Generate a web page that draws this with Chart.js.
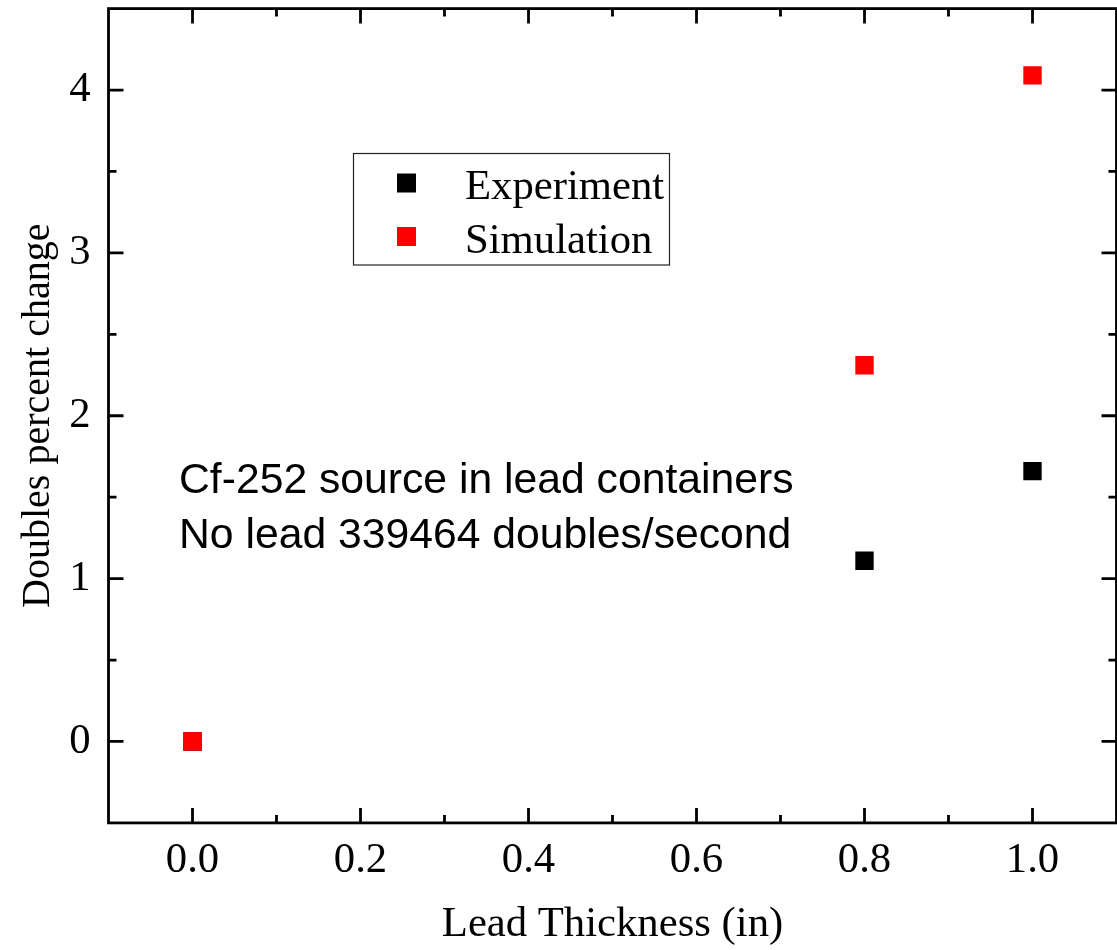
<!DOCTYPE html>
<html>
<head>
<meta charset="utf-8">
<script src="https://cdn.jsdelivr.net/npm/chart.js@4/dist/chart.umd.min.js"></script>
<style>
  html, body { margin: 0; padding: 0; background: #fff; }
  #wrap { width: 1117px; height: 950px; }
</style>
</head>
<body>
<div id="wrap"><canvas id="chart" width="1117" height="950"></canvas></div>
<script>
// values
const thickness = [0.0, 0.8, 1.0]
const experiment = [0.0, 1.11, 1.66]
const simulation = [0.0, 2.31, 4.09]
const xTicks = [0.0, 0.2, 0.4, 0.6, 0.8, 1.0]
const xMinorTicks = [0.1, 0.3, 0.5, 0.7, 0.9]
const yTicks = [0, 1, 2, 3, 4]
const yMinorTicks = [0.5, 1.5, 2.5, 3.5]
const seriesNames = ['Experiment', 'Simulation']
const noteLines = ['Cf-252 source in lead containers', 'No lead 339464 doubles/second']

const serif = '"Liberation Serif", "Times New Roman", serif'
const sans = '"Liberation Sans", Arial, sans-serif'
const fontPx = 42.7

const toPoints = ys => thickness.map((x, i) => ({ x: x, y: ys[i] }))

// no extra room for the end labels, the box is fixed
const noPad = s => {
  s.paddingLeft = 0
  s.paddingRight = 0
  s.paddingTop = 0
  s.paddingBottom = 0
}

// Origin-style box with inward ticks, legend and note
const framePlugin = {
  id: 'frame',
  afterDraw(chart) {
    const { ctx, chartArea: a, scales } = chart
    const xs = scales.x, ys = scales.y
    ctx.save()
    ctx.strokeStyle = '#000'
    ctx.lineWidth = 2.8
    ctx.lineCap = 'butt'
    ctx.beginPath()
    const xTick = (v, len) => {
      const px = xs.getPixelForValue(v)
      ctx.moveTo(px, a.bottom); ctx.lineTo(px, a.bottom - len)
      ctx.moveTo(px, a.top); ctx.lineTo(px, a.top + len)
    }
    const yTick = (v, len) => {
      const py = ys.getPixelForValue(v)
      ctx.moveTo(a.left, py); ctx.lineTo(a.left + len, py)
      ctx.moveTo(a.right, py); ctx.lineTo(a.right - len, py)
    }
    xTicks.forEach(v => xTick(v, 15))
    xMinorTicks.forEach(v => xTick(v, 8))
    yTicks.forEach(v => yTick(v, 15))
    yMinorTicks.forEach(v => yTick(v, 8))
    ctx.stroke()
    ctx.strokeRect(a.left, a.top, a.right - a.left, a.bottom - a.top)

    // legend
    ctx.lineWidth = 1.2
    ctx.strokeStyle = '#222'
    ctx.strokeRect(353.5, 153.5, 316, 111.5)
    ctx.font = fontPx + 'px ' + serif
    ctx.textBaseline = 'alphabetic'
    ctx.textAlign = 'left'
    chart.data.datasets.forEach((ds, i) => {
      const cy = 183 + i * 53.5
      ctx.fillStyle = ds.backgroundColor
      ctx.fillRect(397, cy - 9.5, 19, 19)
      ctx.fillStyle = '#000'
      ctx.fillText(ds.label, 465, cy + 16)
    })

    // note
    ctx.font = fontPx + 'px ' + sans
    ctx.fillStyle = '#000'
    noteLines.forEach((t, i) => ctx.fillText(t, 179, 493 + i * 55))
    ctx.restore()
  }
}

const ctx = document.getElementById('chart').getContext('2d')
const config = {
  type: 'scatter',
  data: {
    datasets: [{
      label: seriesNames[0],
      data: toPoints(experiment),
      backgroundColor: '#000000',
      pointStyle: 'rect',
      pointRadius: 13,
      pointBorderWidth: 0,
      order: 1
    }, {
      label: seriesNames[1],
      data: toPoints(simulation),
      backgroundColor: '#ff0000',
      pointStyle: 'rect',
      pointRadius: 13,
      pointBorderWidth: 0,
      order: 0
    }]
  },
  options: {
    responsive: false,
    animation: false,
    events: [],
    layout: { autoPadding: false, padding: { top: 8.6, right: 0.5, left: 0, bottom: 0 } },
    plugins: {
      legend: { display: false },
      tooltip: { enabled: false }
    },
    scales: {
      x: {
        type: 'linear',
        min: -0.1,
        max: 1.1,
        grid: { display: false, drawTicks: false },
        border: { display: false },
        afterBuildTicks: s => { s.ticks = xTicks.map(v => ({ value: v })) },
        afterFit: s => { s.height = 127.1; noPad(s) },
        ticks: {
          padding: 12,
          color: '#000',
          maxRotation: 0,
          font: { family: serif, size: fontPx },
          callback: v => Number(v).toFixed(1)
        },
        title: {
          display: true,
          text: 'Lead Thickness (in)',
          color: '#000',
          padding: { top: 0, bottom: 0 },
          font: { family: serif, size: fontPx }
        }
      },
      y: {
        type: 'linear',
        min: -0.5,
        max: 4.5,
        grid: { display: false, drawTicks: false },
        border: { display: false },
        afterBuildTicks: s => { s.ticks = yTicks.map(v => ({ value: v })) },
        afterFit: s => { s.width = 108.5; noPad(s) },
        ticks: {
          padding: 18,
          color: '#000',
          font: { family: serif, size: fontPx },
          callback: v => String(v)
        },
        title: {
          display: true,
          text: 'Doubles percent change',
          color: '#000',
          padding: { top: 14, bottom: 0 },
          font: { family: serif, size: 40 }
        }
      }
    }
  },
  plugins: [framePlugin]
}
const myChart = new Chart(ctx, config)
</script>
</body>
</html>
